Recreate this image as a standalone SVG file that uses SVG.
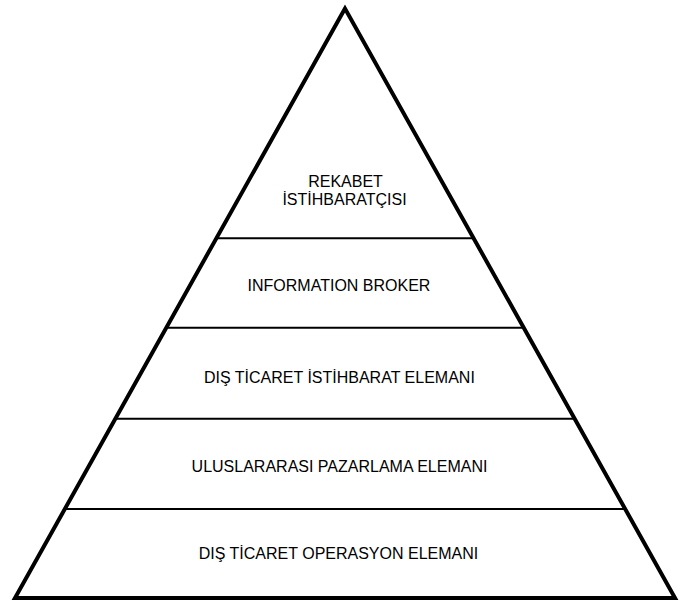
<svg xmlns="http://www.w3.org/2000/svg" width="682" height="601" viewBox="0 0 682 601">
<style>
.frame{fill:none;stroke:#000;stroke-width:4;stroke-linejoin:miter;stroke-miterlimit:10}
.div{stroke:#000;stroke-width:2}
.lbl{font-family:"Liberation Sans",Arial,sans-serif;font-size:16px;fill:#000;text-anchor:middle}
</style>
<rect width="682" height="601" fill="#fff"/>
<g id="connectors">
<polygon class="frame" points="345,8.5 15,598 675,598"/>
<line class="div" x1="216.5" y1="238.3" x2="473.5" y2="238.3"/>
<line class="div" x1="166.1" y1="327.8" x2="523.9" y2="327.8"/>
<line class="div" x1="115.5" y1="418.8" x2="574.5" y2="418.8"/>
<line class="div" x1="65.1" y1="509" x2="624.9" y2="509"/>
</g>
<g id="level1"><text class="lbl" x="345.5" y="186.5">REKABET</text><text class="lbl" x="344.5" y="205">İSTİHBARATÇISI</text></g>
<g id="level2"><text class="lbl" x="339" y="290.7">INFORMATION BROKER</text></g>
<g id="level3"><text class="lbl" x="339.4" y="382.7">DIŞ TİCARET İSTİHBARAT ELEMANI</text></g>
<g id="level4"><text class="lbl" x="339.5" y="472">ULUSLARARASI PAZARLAMA ELEMANI</text></g>
<g id="level5"><text class="lbl" x="338.5" y="558.5">DIŞ TİCARET OPERASYON ELEMANI</text></g>
</svg>
